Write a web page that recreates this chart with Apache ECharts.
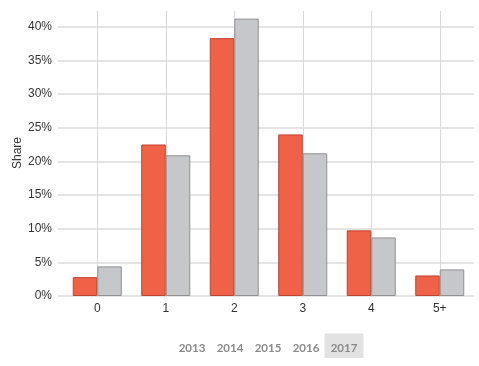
<!DOCTYPE html>
<html>
<head>
<meta charset="utf-8">
<script src="https://cdn.jsdelivr.net/npm/echarts@6/dist/echarts.min.js"></script>
<style>html,body{margin:0;padding:0;background:#fff}#c{width:479px;height:366px}</style>
</head>
<body>
<div id="c"></div>
<script>
const categories = ['0', '1', '2', '3', '4', '5+'];
const seriesA = [2.8, 22.5, 38.3, 24.0, 9.75, 3.05];
const seriesB = [4.4, 20.9, 41.2, 21.2, 8.7, 3.95];
const yTicks = [0, 5, 10, 15, 20, 25, 30, 35, 40];
const years = ['2013', '2014', '2015', '2016', '2017'];
const selectedYear = '2017';

const chart = echarts.init(document.getElementById('c'));
const yearX = [192, 230, 268, 306, 344];
const graphics = [{ type: 'text', x: 18, y: 153, rotation: Math.PI / 2,
  style: { text: 'Share', fill: '#333', font: '12px "Liberation Sans", Arial', align: 'center', verticalAlign: 'middle' } }];
years.forEach((y, i) => {
  if (y === selectedYear) {
    graphics.push({ type: 'rect', shape: { x: yearX[i] - 19.5, y: 333.5, width: 39, height: 24.5 }, style: { fill: '#e2e2e2' } });
  }
  graphics.push({ type: 'text', x: yearX[i], y: 348,
    style: { text: y, fill: '#8a8a8a', font: 'bold 11.5px Lato, "DejaVu Sans"', align: 'center', verticalAlign: 'middle' } });
});

chart.setOption({
  animation: false,
  grid: [
    { left: 63, right: 5, top: 26.7, bottom: 70 },
    { left: 97.25, right: 39.25, top: 11, bottom: 70 }
  ],
  xAxis: [
    { type: 'category', data: categories, gridIndex: 0,
      axisLine: { show: false }, axisTick: { show: false },
      axisLabel: { color: '#333', fontSize: 12, fontFamily: '"Liberation Sans", Arial', margin: 7 } },
    { type: 'value', gridIndex: 1, min: 0, max: categories.length - 1, interval: 1,
      axisLine: { show: false }, axisTick: { show: false }, axisLabel: { show: false },
      splitLine: { show: true, lineStyle: { color: '#d9d9d9', width: 1 } } }
  ],
  yAxis: [
    { type: 'value', gridIndex: 0, min: yTicks[0], max: yTicks[yTicks.length - 1], interval: 5,
      axisLine: { show: false },
      axisTick: { show: true, length: 5, lineStyle: { color: '#e4e4e4', width: 2 } },
      axisLabel: { color: '#333', fontSize: 12, fontFamily: '"Liberation Sans", Arial', margin: 11, formatter: v => v + '%' },
      splitLine: { lineStyle: { color: '#e4e4e4', width: 2 } } },
    { type: 'value', gridIndex: 1, show: false, splitLine: { show: false } }
  ],
  graphic: graphics,
  series: [
    { type: 'bar', data: seriesA, barWidth: 24.5, barGap: '0%', xAxisIndex: 0, yAxisIndex: 0, z: 3, clip: false,
      itemStyle: { color: '#ef6248', borderColor: '#c0412c', borderWidth: 1 } },
    { type: 'bar', data: seriesB, barWidth: 24.5, barGap: '0%', xAxisIndex: 0, yAxisIndex: 0, z: 3, clip: false,
      itemStyle: { color: '#c6c7cb', borderColor: '#909090', borderWidth: 1 } }
  ]
});
</script>
</body>
</html>
